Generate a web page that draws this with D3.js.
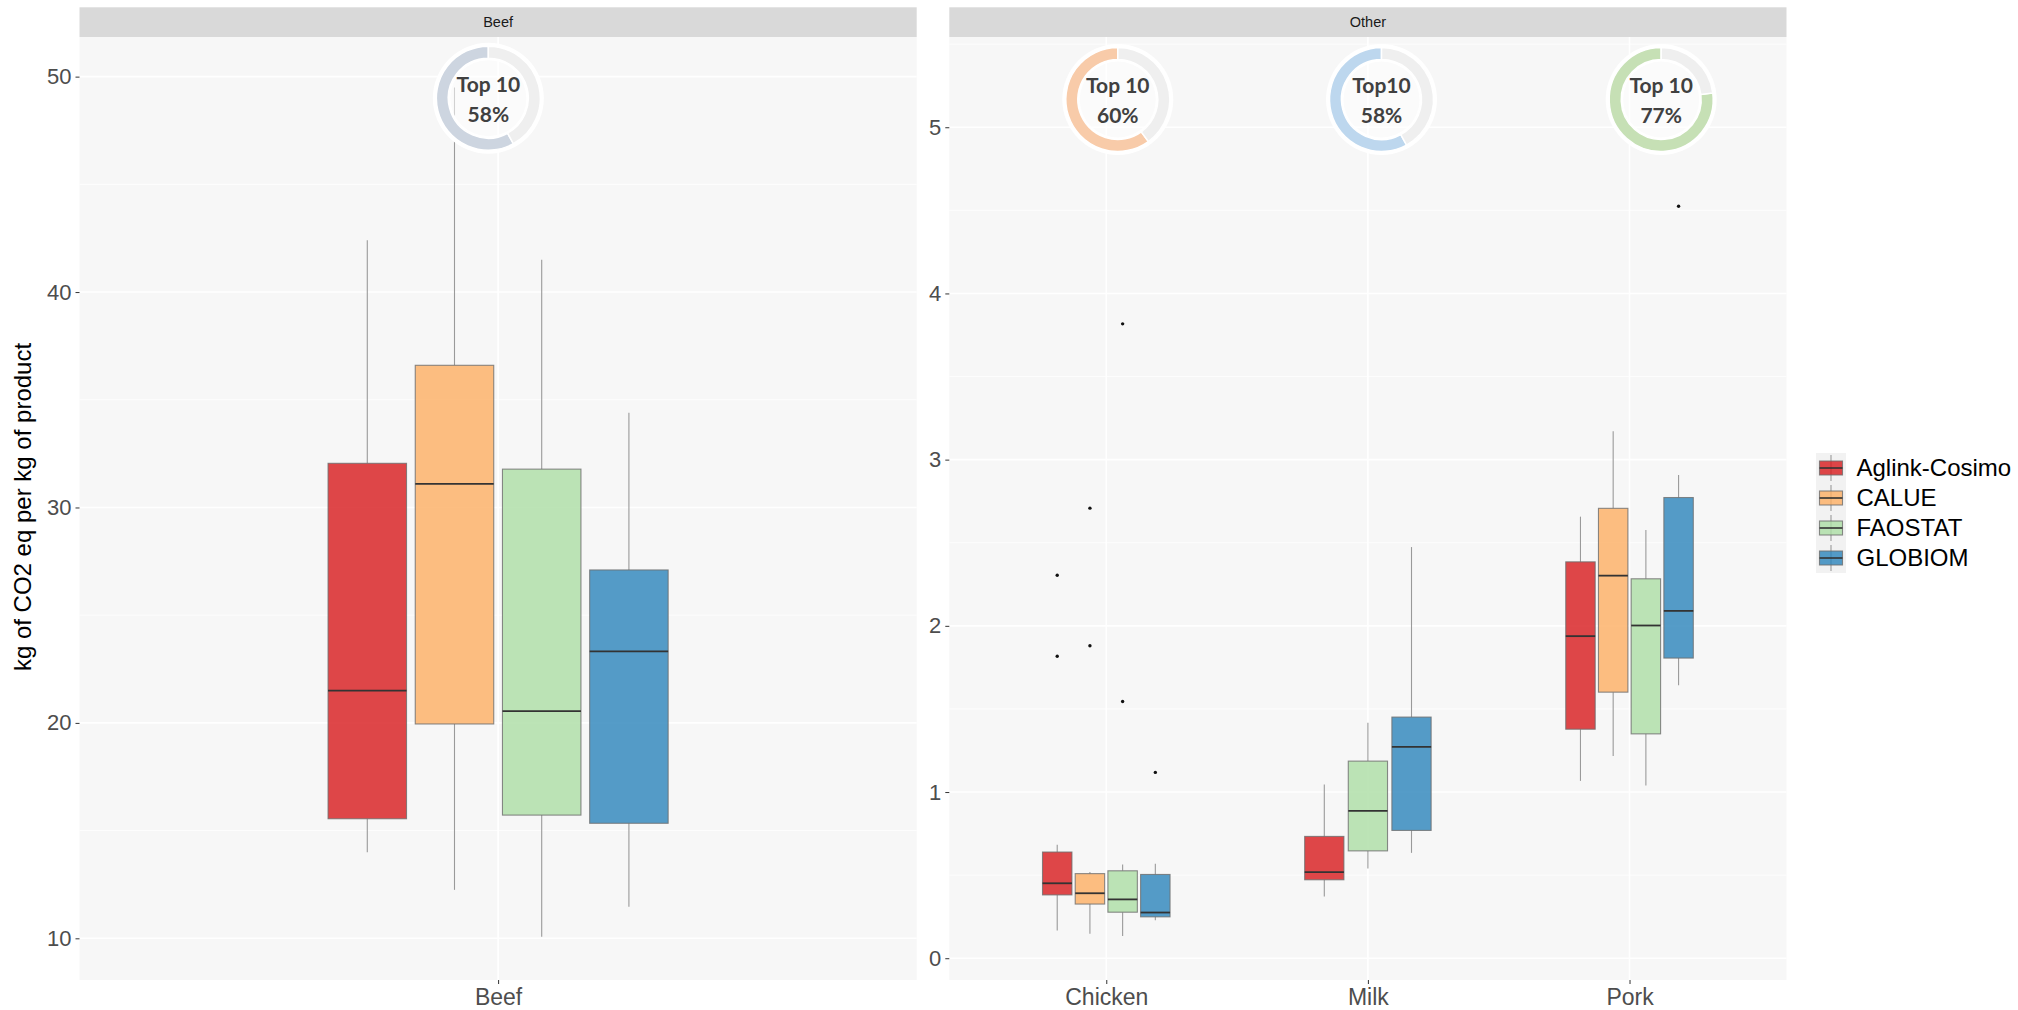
<!DOCTYPE html>
<html>
<head>
<meta charset="utf-8">
<script src="https://cdn.jsdelivr.net/npm/d3@7"></script>
<style>
  html, body { margin: 0; padding: 0; background: #ffffff; }
  svg { display: block; }
</style>
</head>
<body>
<svg id="chart" width="2018" height="1010"></svg>
<script>
// ---- data -------------------------------------------------------------
const models = ["Aglink-Cosimo", "CALUE", "FAOSTAT", "GLOBIOM"];
const panelNames = ["Beef", "Other"];
const beefProducts = ["Beef"];
const otherProducts = ["Chicken", "Milk", "Pork"];
const beefTicks = [10, 20, 30, 40, 50];
const otherTicks = [0, 1, 2, 3, 4, 5];

// [model, lower whisker, Q1, median, Q3, upper whisker]
const beefBoxes = [
  ["Aglink-Cosimo", 14.0, 15.55, 21.5, 32.05, 42.4],
  ["CALUE", 12.25, 19.95, 31.1, 36.6, 49.5],
  ["FAOSTAT", 10.07, 15.72, 20.55, 31.78, 41.5],
  ["GLOBIOM", 11.47, 15.34, 23.32, 27.1, 34.4]
];
const chickenBoxes = [
  ["Aglink-Cosimo", 0.167, 0.381, 0.451, 0.639, 0.683],
  ["CALUE", 0.147, 0.326, 0.391, 0.509, 0.519],
  ["FAOSTAT", 0.134, 0.277, 0.354, 0.526, 0.564],
  ["GLOBIOM", 0.229, 0.249, 0.275, 0.504, 0.569]
];
const milkBoxes = [
  ["Aglink-Cosimo", 0.372, 0.472, 0.518, 0.733, 1.046],
  ["FAOSTAT", 0.540, 0.646, 0.887, 1.186, 1.417],
  ["GLOBIOM", 0.634, 0.769, 1.272, 1.451, 2.474]
];
const porkBoxes = [
  ["Aglink-Cosimo", 1.067, 1.378, 1.938, 2.385, 2.657],
  ["CALUE", 1.217, 1.601, 2.302, 2.707, 3.171],
  ["FAOSTAT", 1.040, 1.350, 2.002, 2.283, 2.576],
  ["GLOBIOM", 1.643, 1.806, 2.090, 2.772, 2.908]
];
// [model, value]
const chickenOutliers = [
  ["Aglink-Cosimo", 1.817], ["Aglink-Cosimo", 2.304],
  ["CALUE", 1.880], ["CALUE", 2.708],
  ["FAOSTAT", 1.545], ["FAOSTAT", 3.817],
  ["GLOBIOM", 1.118]
];
const porkOutliers = [["GLOBIOM", 4.525]];

// share of the ten largest producers, per product
const shareProducts = ["Beef", "Chicken", "Milk", "Pork"];
const shareTitles = ["Top 10", "Top 10", "Top10", "Top 10"];
const sharePercents = [58, 60, 58, 77];

// ---- styles & layout --------------------------------------------------
const modelColors = ["#d7191c", "#fdae61", "#abdda4", "#2b83ba"];
const shareColors = ["#cdd5e0", "#f8cba9", "#bdd7ee", "#c6e0b5"];
const color = d3.scaleOrdinal().domain(models).range(modelColors);

const boxesByProduct = { Beef: beefBoxes, Chicken: chickenBoxes, Milk: milkBoxes, Pork: porkBoxes };
const outliersByProduct = { Beef: [], Chicken: chickenOutliers, Milk: [], Pork: porkOutliers };

const svg = d3.select("#chart");
const font = "'Liberation Sans', Arial, sans-serif";
const plotTop = 37, plotBottom = 980, stripTop = 7.3;

const panels = [
  { name: panelNames[0], x0: 79.5, x1: 916.7, products: beefProducts, ticks: beefTicks,
    domain: [8.065, 51.84], minor: [15, 25, 35, 45], donutY: 49.0 },
  { name: panelNames[1], x0: 949.3, x1: 1786.5, products: otherProducts, ticks: otherTicks,
    domain: [-0.131, 5.543], minor: [0.5, 1.5, 2.5, 3.5, 4.5, 5.5], donutY: 5.167 }
];
const donutShift = { Beef: -0.014, Chicken: 0.044, Milk: 0.052, Pork: 0.121 };

panels.forEach(p => {
  const x = d3.scalePoint().domain(p.products).range([p.x0, p.x1]).padding(0.6);
  const step = x.step();
  const y = d3.scaleLinear().domain(p.domain).range([plotBottom, plotTop]);
  const g = svg.append("g");

  // strip
  g.append("rect").attr("x", p.x0).attr("y", stripTop)
    .attr("width", p.x1 - p.x0).attr("height", plotTop - stripTop).attr("fill", "#d9d9d9");
  g.append("text").attr("x", (p.x0 + p.x1) / 2).attr("y", (plotTop + stripTop) / 2)
    .attr("dy", "0.35em").attr("text-anchor", "middle")
    .attr("font-family", font).attr("font-size", 14.5).attr("fill", "#1a1a1a")
    .text(p.name);

  // panel background & grid
  g.append("rect").attr("x", p.x0).attr("y", plotTop)
    .attr("width", p.x1 - p.x0).attr("height", plotBottom - plotTop).attr("fill", "#f7f7f7");
  g.selectAll(".minor").data(p.minor.filter(v => v > p.domain[0] && v < p.domain[1])).enter()
    .append("line").attr("x1", p.x0).attr("x2", p.x1)
    .attr("y1", d => y(d)).attr("y2", d => y(d))
    .attr("stroke", "#ffffff").attr("stroke-width", 0.8);
  g.selectAll(".major").data(p.ticks).enter()
    .append("line").attr("x1", p.x0).attr("x2", p.x1)
    .attr("y1", d => y(d)).attr("y2", d => y(d))
    .attr("stroke", "#ffffff").attr("stroke-width", 1.6);
  g.selectAll(".vmajor").data(p.products).enter()
    .append("line").attr("x1", d => x(d)).attr("x2", d => x(d))
    .attr("y1", plotTop).attr("y2", plotBottom)
    .attr("stroke", "#ffffff").attr("stroke-width", 1.6);

  // axes
  const yAxis = d3.axisLeft(y).tickValues(p.ticks).tickSize(4).tickPadding(4).tickFormat(d3.format("d"));
  const ya = g.append("g").attr("transform", `translate(${p.x0},0)`).call(yAxis);
  ya.select(".domain").remove();
  ya.selectAll("line").attr("stroke", "#333333").attr("stroke-width", 1);
  ya.selectAll("text").attr("font-family", font).attr("font-size", 22).attr("fill", "#4d4d4d");

  const xAxis = d3.axisBottom(x).tickSize(4).tickPadding(5);
  const xa = g.append("g").attr("transform", `translate(0,${plotBottom})`).call(xAxis);
  xa.select(".domain").remove();
  xa.selectAll("line").attr("stroke", "#333333").attr("stroke-width", 1);
  xa.selectAll("text").attr("font-family", font).attr("font-size", 23).attr("fill", "#4d4d4d");

  // boxes
  p.products.forEach(prod => {
    const rows = boxesByProduct[prod];
    const cx = x(prod);
    const inner = d3.scaleBand().domain(rows.map(r => r[0]))
      .range([cx - step * 0.25, cx + step * 0.25]).paddingInner(0.1).paddingOuter(0.05);
    const bw = inner.bandwidth();
    const bg = g.append("g");
    rows.forEach(r => {
      const [m, lo, q1, med, q3, hi] = r;
      const bx = inner(m), mx = bx + bw / 2;
      bg.append("line").attr("x1", mx).attr("x2", mx).attr("y1", y(hi)).attr("y2", y(q3))
        .attr("stroke", "#9a9a9a").attr("stroke-width", 1.1);
      bg.append("line").attr("x1", mx).attr("x2", mx).attr("y1", y(q1)).attr("y2", y(lo))
        .attr("stroke", "#9a9a9a").attr("stroke-width", 1.1);
      bg.append("rect").attr("x", bx).attr("y", y(q3)).attr("width", bw).attr("height", y(q1) - y(q3))
        .attr("fill", color(m)).attr("fill-opacity", 0.8)
        .attr("stroke", "#6e6e6e").attr("stroke-opacity", 0.8).attr("stroke-width", 1.1);
      bg.append("line").attr("x1", bx).attr("x2", bx + bw).attr("y1", y(med)).attr("y2", y(med))
        .attr("stroke", "#333333").attr("stroke-width", 1.8);
    });
    outliersByProduct[prod].forEach(o => {
      bg.append("circle").attr("cx", inner(o[0]) + bw / 2).attr("cy", y(o[1]))
        .attr("r", 1.7).attr("fill", "#111111");
    });
  });

  // share donuts
  p.products.forEach(prod => {
    const i = shareProducts.indexOf(prod);
    const pct = sharePercents[i];
    const cx = x(prod) + donutShift[prod] * step;
    const cy = y(p.donutY);
    const dg = g.append("g").attr("transform", `translate(${cx},${cy})`);
    dg.append("circle").attr("r", 39).attr("fill", "#ffffff").attr("fill-opacity", 0.55);
    dg.append("path").attr("d", d3.arc()({ innerRadius: 38, outerRadius: 55.5, startAngle: 0, endAngle: 2 * Math.PI }))
      .attr("fill", "#ffffff");
    const a = pct / 100 * 2 * Math.PI;
    const arc = d3.arc().innerRadius(40).outerRadius(52);
    dg.append("path").attr("d", arc({ startAngle: -a, endAngle: 0 }))
      .attr("fill", shareColors[i]).attr("stroke", "#ffffff").attr("stroke-width", 1.5);
    dg.append("path").attr("d", arc({ startAngle: 0, endAngle: 2 * Math.PI - a }))
      .attr("fill", "#efefef").attr("stroke", "#ffffff").attr("stroke-width", 1.5);
    dg.append("text").attr("y", -6).attr("text-anchor", "middle")
      .attr("font-family", "Lato, 'Open Sans', sans-serif").attr("font-weight", 700)
      .attr("font-size", 21).attr("fill", "#404040").text(shareTitles[i]);
    dg.append("text").attr("y", 24).attr("text-anchor", "middle")
      .attr("font-family", "Lato, 'Open Sans', sans-serif").attr("font-weight", 700)
      .attr("font-size", 21).attr("fill", "#404040").text(pct + "%");
  });
});

// y-axis title
svg.append("text").attr("transform", "translate(31,507) rotate(-90)")
  .attr("text-anchor", "middle").attr("font-family", font).attr("font-size", 24)
  .attr("fill", "#000000").text("kg of CO2 eq per kg of product");

// legend
const legend = svg.append("g").attr("transform", "translate(1816,453)");
models.forEach((m, i) => {
  const lg = legend.append("g").attr("transform", `translate(0,${i * 30})`);
  lg.append("rect").attr("width", 30).attr("height", 30).attr("fill", "#f2f2f2");
  lg.append("line").attr("x1", 15).attr("x2", 15).attr("y1", 2).attr("y2", 28)
    .attr("stroke", "#9a9a9a").attr("stroke-width", 1.1);
  lg.append("rect").attr("x", 3.5).attr("y", 8).attr("width", 23).attr("height", 14)
    .attr("fill", color(m)).attr("fill-opacity", 0.8)
    .attr("stroke", "#6e6e6e").attr("stroke-opacity", 0.8).attr("stroke-width", 1.1);
  lg.append("line").attr("x1", 3.5).attr("x2", 26.5).attr("y1", 15).attr("y2", 15)
    .attr("stroke", "#333333").attr("stroke-width", 1.6);
  lg.append("text").attr("x", 40.5).attr("y", 15).attr("dy", "0.35em")
    .attr("font-family", font).attr("font-size", 24).attr("fill", "#000000").text(m);
});
</script>
</body>
</html>
